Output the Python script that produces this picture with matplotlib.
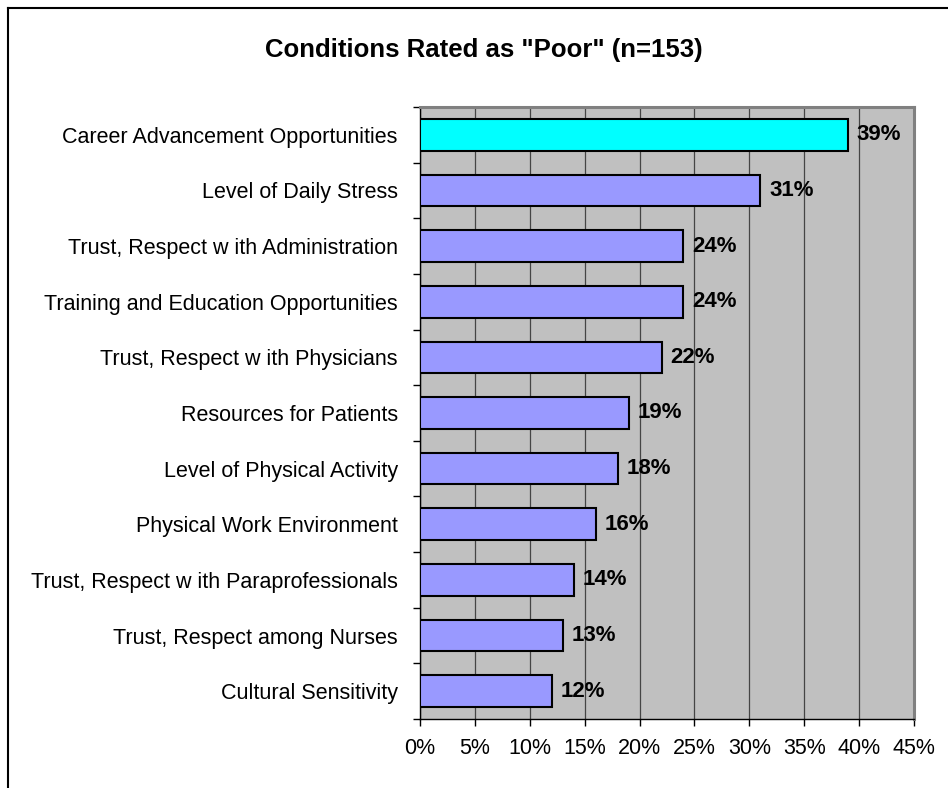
"""Horizontal bar chart: conditions rated as "Poor"."""

import matplotlib.pyplot as plt
from matplotlib.lines import Line2D
from matplotlib.ticker import FixedLocator

plt.rcParams["font.family"] = ["Liberation Sans", "DejaVu Sans"]

categories = [
    "Career Advancement Opportunities",
    "Level of Daily Stress",
    "Trust, Respect w ith Administration",
    "Training and Education Opportunities",
    "Trust, Respect w ith Physicians",
    "Resources for Patients",
    "Level of Physical Activity",
    "Physical Work Environment",
    "Trust, Respect w ith Paraprofessionals",
    "Trust, Respect among Nurses",
    "Cultural Sensitivity",
]
values = [39, 31, 24, 24, 22, 19, 18, 16, 14, 13, 12]
x_ticks = [0, 5, 10, 15, 20, 25, 30, 35, 40, 45]

W, H = 948, 788
fig = plt.figure(figsize=(W / 100, H / 100), dpi=100)
ax = fig.add_axes([420 / W, 1 - 719 / H, 494 / W, 612 / H])
ax.set_facecolor("#C0C0C0")

n = len(categories)
ypos = list(range(n))[::-1]
colors = ["#00FFFF"] + ["#9999FF"] * (n - 1)
ax.barh(ypos, values, height=0.57, color=colors, edgecolor="black",
        linewidth=1.5, zorder=3)
for y, v in zip(ypos, values):
    ax.text(v + 0.8, y, f"{v}%", va="center", ha="left", fontsize=16,
            fontweight="bold", zorder=4)

ax.set_xlim(0, 45)
ax.set_ylim(-0.5, n - 0.5)
ax.set_xticks(x_ticks)
ax.set_xticklabels([f"{t}%" for t in x_ticks], fontsize=15.5)
ax.set_yticks(ypos)
ax.set_yticklabels(categories, fontsize=15.5)
ax.yaxis.set_minor_locator(FixedLocator([i - 0.5 for i in range(n + 1)]))
ax.tick_params(axis="y", which="major", length=0, pad=16)
ax.tick_params(axis="y", which="minor", length=5, width=1, direction="out")
ax.tick_params(axis="x", length=5, width=1, direction="out", pad=9)
ax.grid(axis="x", color="#454545", linewidth=0.9, zorder=0)
ax.set_axisbelow(True)

for side in ("top", "right"):
    ax.spines[side].set_color("#808080")
    ax.spines[side].set_linewidth(2.2)
for side in ("left", "bottom"):
    ax.spines[side].set_color("black")
    ax.spines[side].set_linewidth(1)

fig.text(484 / W, 1 - 50 / H, 'Conditions Rated as "Poor" (n=153)',
         ha="center", va="center", fontsize=18.5, fontweight="bold")

# outer chart border (right and bottom edges fall outside the image)
fig.add_artist(Line2D([8 / W, 8 / W], [0, 1 - 8 / H], color="black",
                      linewidth=1.5, transform=fig.transFigure))
fig.add_artist(Line2D([8 / W, 1], [1 - 8 / H, 1 - 8 / H], color="black",
                      linewidth=1.5, transform=fig.transFigure))

fig.savefig("out.png", dpi=100)
